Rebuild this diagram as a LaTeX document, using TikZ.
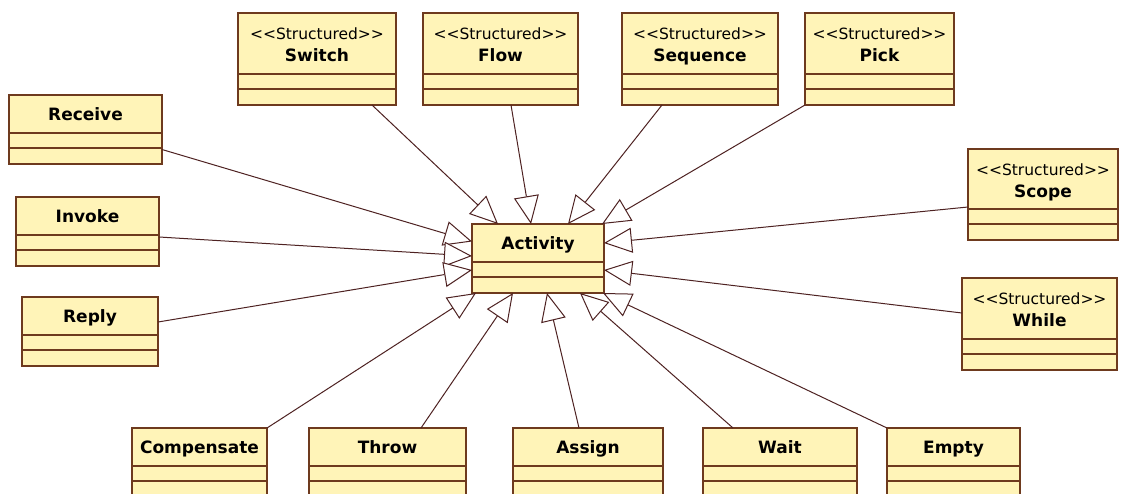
\documentclass[tikz,border=0pt]{standalone}
\usepackage{fontspec}
\newfontfamily\umlfont{DejaVu Sans}
\usetikzlibrary{arrows.meta}
\definecolor{classfill}{HTML}{FFF4B8}
\definecolor{classline}{HTML}{6E3A1E}
\definecolor{linkline}{HTML}{4E2222}
\begin{document}
\begin{tikzpicture}[x=1pt,y=-1pt,
  cls/.style={draw=classline, fill=classfill, line width=1.3pt,
    anchor=north west, inner sep=0pt, outer sep=0pt,
    path picture={
      \draw[classline, line width=1.3pt]
        ([yshift=16pt]path picture bounding box.south west) --
        ([yshift=16pt]path picture bounding box.south east);
      \draw[classline, line width=1.3pt]
        ([yshift=31pt]path picture bounding box.south west) --
        ([yshift=31pt]path picture bounding box.south east);
    }},
  stereo/.style={font=\umlfont\fontsize{15.5}{18}\selectfont, anchor=base, inner sep=0pt},
  ctitle/.style={font=\umlfont\bfseries\fontsize{17}{20}\selectfont, anchor=base, inner sep=0pt},
  gen/.style={draw=linkline, line width=1pt,
    -{Triangle[length=28pt, width=25pt, fill=white, line width=1pt]}}
]
\useasboundingbox (0,0) rectangle (1124,493);
\fill[white] (0,0) rectangle (1124,493);
\clip (0,0) rectangle (1124,493);

% structured activities along the top
\node[cls, minimum width=158pt, minimum height=92pt] (switch) at (238,13) {};
\node[cls, minimum width=155pt, minimum height=92pt] (flow) at (423,13) {};
\node[cls, minimum width=156pt, minimum height=92pt] (sequence) at (622,13) {};
\node[cls, minimum width=149pt, minimum height=92pt] (pick) at (805,13) {};
% structured activities on the right
\node[cls, minimum width=150pt, minimum height=91pt] (scope) at (968,149) {};
\node[cls, minimum width=155pt, minimum height=92pt] (while) at (962,278) {};
% basic activities on the left
\node[cls, minimum width=153pt, minimum height=69pt] (receive) at (9,95) {};
\node[cls, minimum width=143pt, minimum height=69pt] (invoke) at (16,197) {};
\node[cls, minimum width=136pt, minimum height=69pt] (reply) at (22,297) {};
% basic activities along the bottom
\node[cls, minimum width=135pt, minimum height=69pt] (compensate) at (132,428) {};
\node[cls, minimum width=157pt, minimum height=69pt] (throw) at (309,428) {};
\node[cls, minimum width=150pt, minimum height=69pt] (assign) at (513,428) {};
\node[cls, minimum width=154pt, minimum height=69pt] (wait) at (703,428) {};
\node[cls, minimum width=133pt, minimum height=69pt] (empty) at (887,428) {};
% the common base class
\node[cls, minimum width=132pt, minimum height=69pt] (activity) at (472,224) {};

% labels
\foreach \n/\t in {switch/Switch, flow/Flow, sequence/Sequence, pick/Pick, scope/Scope, while/While}{
  \node[stereo] (\n-st) at ([yshift=-26pt]\n.north) {<{}<Structured>{}>};
  \node[ctitle] (\n-tt) at ([yshift=-48pt]\n.north) {\t};
}
\foreach \n/\t in {receive/Receive, invoke/Invoke, reply/Reply, compensate/Compensate,
                   throw/Throw, assign/Assign, wait/Wait, empty/Empty, activity/Activity}{
  \node[ctitle] (\n-tt) at ([yshift=-25pt]\n.north) {\t};
}

% generalizations
\draw[gen] ([xshift=55pt]switch.south) -- ([xshift=-40pt]activity.north);
\draw[gen] ([xshift=10.5pt]flow.south) -- ([xshift=-7pt]activity.north);
\draw[gen] ([xshift=-38pt]sequence.south) -- ([xshift=30pt]activity.north);
\draw[gen] (pick.south west) -- ([xshift=64pt]activity.north);

\draw[gen] ([yshift=-20pt]receive.east) -- ([yshift=17pt]activity.west);
\draw[gen] ([yshift=-5.5pt]invoke.east) -- ([yshift=2.5pt]activity.west);
\draw[gen] ([yshift=9.5pt]reply.east) -- ([yshift=-11.5pt]activity.west);

\draw[gen] ([yshift=-12.5pt]scope.west) -- ([yshift=15.5pt]activity.east);
\draw[gen] ([yshift=11pt]while.west) -- ([yshift=-11.5pt]activity.east);

\draw[gen] (compensate.north east) -- ([xshift=-62pt]activity.south);
\draw[gen] ([xshift=33.5pt]throw.north) -- ([xshift=-25pt]activity.south);
\draw[gen] ([xshift=-9pt]assign.north) -- ([xshift=9pt]activity.south);
\draw[gen] ([xshift=-47pt]wait.north) -- ([xshift=42pt]activity.south);
\draw[gen] (empty.north west) -- ([xshift=65pt]activity.south);
\end{tikzpicture}
\end{document}
